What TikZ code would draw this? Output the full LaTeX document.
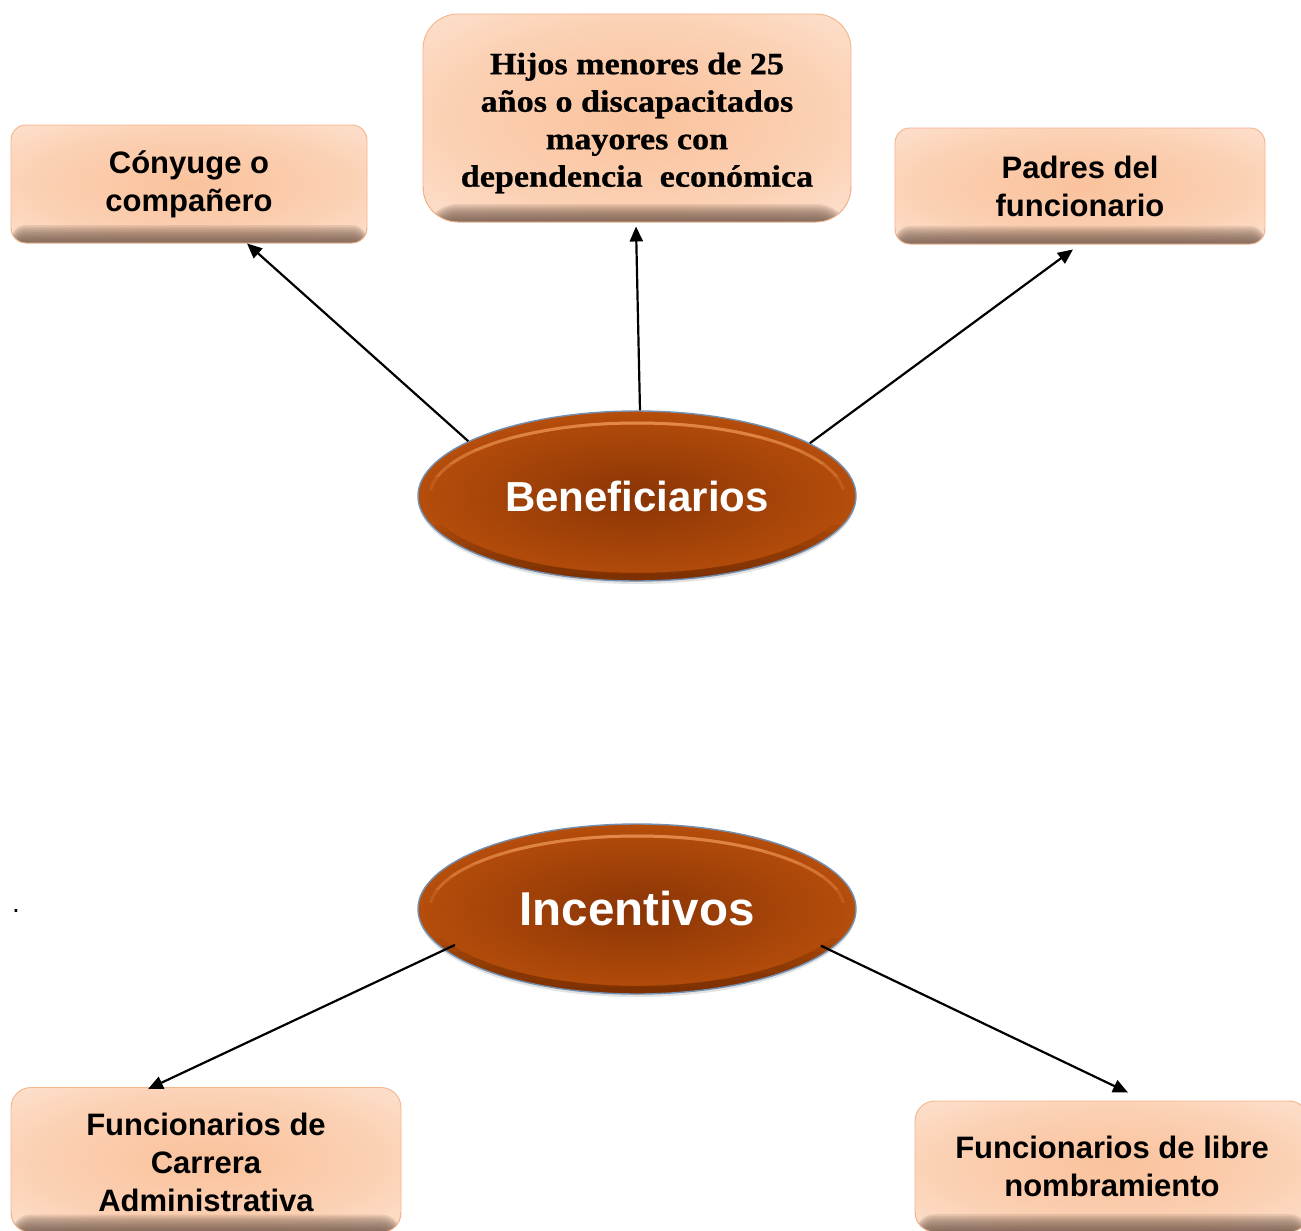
\documentclass[tikz,border=0pt]{standalone}
\usepackage{fontspec}
\setmainfont{Liberation Sans}
\newfontfamily\hijosfont[FakeStretch=1.1,FakeBold=0.8]{Liberation Serif}
\usetikzlibrary{shapes.geometric,arrows.meta,shadows}

\definecolor{boxline}{HTML}{F4B48C}
\definecolor{facein}{HTML}{FAC29C}
\definecolor{faceout}{HTML}{FEEBDF}
\definecolor{bevelcol}{HTML}{6E5446}
\definecolor{ellin}{HTML}{8A3506}
\definecolor{ellmid}{HTML}{B04A0A}
\definecolor{ellout}{HTML}{D6620F}
\definecolor{ellline}{HTML}{7490B0}
\definecolor{ellhl}{HTML}{F7A060}
\definecolor{elldark}{HTML}{5A2203}

\pgfdeclareradialshading{boxface}{\pgfpoint{0bp}{0bp}}{color(0bp)=(facein); color(22bp)=(facein!65!faceout); color(45bp)=(faceout); color(72bp)=(faceout)}
\pgfdeclareradialshading{ellface}{\pgfpoint{0bp}{0bp}}{color(0bp)=(ellin); color(22bp)=(ellmid); color(42bp)=(ellout); color(72bp)=(ellout)}

\tikzset{
  boxnode/.style={rectangle, rounded corners=#1, draw=boxline, line width=0.9pt,
    shading=boxface, align=center, text=black, inner sep=0pt,
    path picture={\foreach \i in {1,...,10}{\fill[bevelcol, opacity=0.14]
      (path picture bounding box.south west) rectangle ([yshift=\i*1.8pt]path picture bounding box.south east);}}},
  sanstext/.style={font=\fontsize{31}{38}\selectfont\bfseries},
  ellnode/.style={ellipse, draw=ellline, line width=1.4pt, shading=ellface,
    minimum width=438pt, minimum height=170pt, inner sep=0pt, text=white,
    drop shadow={shadow xshift=0pt, shadow yshift=-3pt, opacity=0.22},
    path picture={
      \foreach \k in {1,...,6}{
        \begin{scope}
          \clip (path picture bounding box.north west) rectangle ([yshift=-\k*13pt]path picture bounding box.north east);
          \draw[ellhl, line width=3pt, opacity=0.2]
            (path picture bounding box.center) ellipse [x radius=207pt, y radius=73pt];
        \end{scope}}
      \foreach \k in {1,...,8}{
        \begin{scope}
          \clip (path picture bounding box.south west) rectangle ([yshift=\k*7pt]path picture bounding box.south east);
          \draw[elldark, line width=16pt, opacity=0.1]
            (path picture bounding box.center) ellipse [x radius=219pt, y radius=85pt];
        \end{scope}}
    }},
  arr/.style={-{Triangle[length=15pt,width=13pt]}, line width=2.2pt, black},
  plaintext/.style={inner sep=0pt, align=center, text=black}
}

\begin{document}
\begin{tikzpicture}[x=1pt,y=-1pt]
\useasboundingbox (0,0) rectangle (1301,1231);
\fill[white] (0,0) rectangle (1301,1231);
\clip (0,0) rectangle (1301,1231);

\node[boxnode=15pt, sanstext, minimum width=356pt, minimum height=118pt] (cony) at (189,184) {Cónyuge o\\compañero};
\node[boxnode=35pt, minimum width=428pt, minimum height=208pt] (hijos) at (637,118) {};
\node[plaintext, font=\hijosfont\fontsize{31}{37.5}\selectfont\bfseries] (hijostxt) at (637,123)
  {Hijos menores de 25\\años o discapacitados\\mayores con\\dependencia~ económica};
\node[boxnode=15pt, sanstext, minimum width=370pt, minimum height=116pt] (padres) at (1080,186) {Padres del\\funcionario};

\node[ellnode, font=\fontsize{42}{48}\selectfont\bfseries] (ben) at (637,496) {Beneficiarios};
\node[ellnode, font=\fontsize{47.5}{54}\selectfont\bfseries] (inc) at (637,909) {Incentivos};

\node[boxnode=20pt, sanstext, minimum width=390pt, minimum height=145pt] (car) at (206,1160) {};
\node[plaintext, sanstext] (cartxt) at (206,1162) {Funcionarios de\\Carrera\\Administrativa};
\node[boxnode=20pt, sanstext, minimum width=394pt, minimum height=131pt] (lib) at (1112,1166.5) {Funcionarios de libre\\nombramiento};

\node[font=\fontsize{28}{28}\selectfont, inner sep=0pt] (dot) at (16,911) {.};

\draw[arr] (ben.162) -- ([xshift=58pt]cony.south);
\draw[arr] (ben.88) -- ([xshift=-1pt,yshift=-4pt]hijos.south);
\draw[arr] (ben.17) -- ([xshift=-7pt,yshift=-5pt]padres.south);
\draw[arr, shorten <=-12pt] (inc.192) -- ([xshift=-58pt,yshift=-2pt]car.north);
\draw[arr, shorten <=-10pt] (inc.348) -- ([xshift=16pt,yshift=8pt]lib.north);
\end{tikzpicture}
\end{document}
